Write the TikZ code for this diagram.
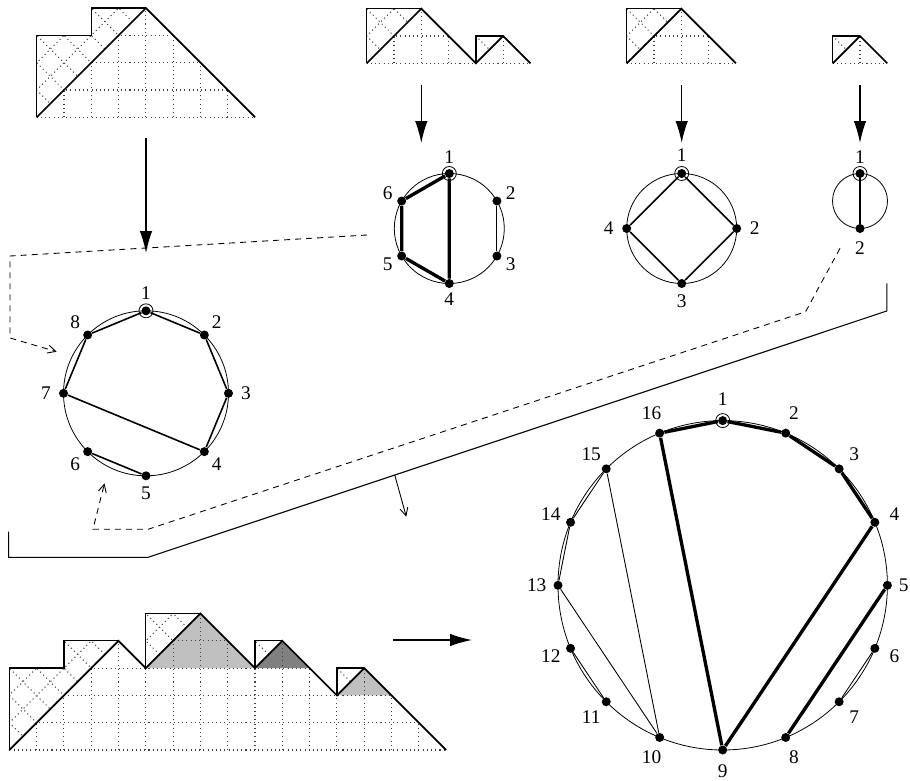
\documentclass[tikz,border=0pt]{standalone}
\usepackage{fontspec}
\setmainfont{Liberation Serif}
\usetikzlibrary{arrows.meta, calc}
\definecolor{shadelight}{HTML}{C0C0C0}
\definecolor{shadedark}{HTML}{808080}

% dotted cell diagonals inside a clipped region
\newcommand{\hatchcells}[1]{%
  \begin{scope}
    \clip #1;
    \foreach \kk in {-6,...,17} {
      \draw[cell] (\kk,0) -- ++(6,6);
      \draw[cell] (\kk,0) -- ++(-6,6);
    }
  \end{scope}}
% dotted square grid under a Dyck path
\newcommand{\dyckgrid}[3]{%
  \begin{scope}
    \clip #1;
    \foreach \cx in {1,...,#2} \draw[cell] (\cx,0) -- (\cx,#3);
    \foreach \ry in {1,...,#3} \draw[cell] (0,\ry) -- (#2,\ry);
  \end{scope}
  \draw[cell] (0,0) -- (#2,0);}

\begin{document}
\begin{tikzpicture}[
    x=0.2mm, y=-0.2mm,
    every node/.style={font=\fontsize{11}{13}\selectfont, inner sep=0pt},
    vtx/.style={circle, fill, inner sep=0pt, minimum size=1.8mm},
    rim/.style={line width=0.45pt},
    chord/.style={line width=0.9pt},
    fatchord/.style={line width=1.9pt},
    thinchord/.style={line width=0.5pt},
    dyck/.style={line width=1pt},
    stair/.style={line width=0.7pt},
    cell/.style={dash pattern=on 0.6pt off 1.8pt, line width=0.6pt, black!75},
    bigarrow/.style={-{Latex[length=4.4mm,width=2.5mm]}, line width=0.7pt},
    link/.style={dash pattern=on 1.2mm off 1mm, line width=0.5pt},
    barb/.style={-{Straight Barb[length=1.6mm,width=1.6mm]}},
  ]
  \useasboundingbox (0,0) rectangle (910,780);

  % Dyck paths, top row
  \begin{scope}[shift={(36.7,117.3)}, x=5.46mm, y=5.46mm]
    \hatchcells{(0,0) -- (0,3) -- (2,3) -- (2,4) -- (4,4) -- cycle}
    \dyckgrid{(0,0) -- (4,4) -- (8,0) -- cycle}{8}{4}
    \draw[stair] (0,0) -- (0,3) -- (2,3) -- (2,4) -- (4,4);
    \draw[dyck] (0,0) -- (4,4) -- (8,0);
  \end{scope}
  \begin{scope}[shift={(366.7,63.3)}, x=5.46mm, y=5.46mm]
    \hatchcells{(0,0) -- (0,2) -- (2,2) -- cycle (4,0) -- (4,1) -- (5,1) -- cycle}
    \dyckgrid{(0,0) -- (2,2) -- (4,0) -- (5,1) -- (6,0) -- cycle}{6}{2}
    \draw[stair] (0,0) -- (0,2) -- (2,2) (4,0) -- (4,1) -- (5,1);
    \draw[dyck] (0,0) -- (2,2) -- (4,0) -- (5,1) -- (6,0);
  \end{scope}
  \begin{scope}[shift={(626.7,63.3)}, x=5.46mm, y=5.46mm]
    \hatchcells{(0,0) -- (0,2) -- (2,2) -- cycle}
    \dyckgrid{(0,0) -- (2,2) -- (4,0) -- cycle}{4}{2}
    \draw[stair] (0,0) -- (0,2) -- (2,2);
    \draw[dyck] (0,0) -- (2,2) -- (4,0);
  \end{scope}
  \begin{scope}[shift={(832.7,63.3)}, x=5.46mm, y=5.46mm]
    \hatchcells{(0,0) -- (0,1) -- (1,1) -- cycle}
    \dyckgrid{(0,0) -- (1,1) -- (2,0) -- cycle}{2}{1}
    \draw[stair] (0,0) -- (0,1) -- (1,1);
    \draw[dyck] (0,0) -- (1,1) -- (2,0);
  \end{scope}

  % Dyck path, bottom
  \begin{scope}[shift={(9.3,750)}, x=5.46mm, y=5.46mm]
    \fill[shadelight] (5,3) -- (7,5) -- (9,3) -- cycle;
    \fill[shadedark] (9,3) -- (10,4) -- (11,3) -- cycle;
    \fill[shadelight] (12,2) -- (13,3) -- (14,2) -- cycle;
    \hatchcells{(0,0) -- (0,3) -- (2,3) -- (2,4) -- (4,4) -- cycle
      (5,3) -- (5,5) -- (7,5) -- cycle (9,3) -- (9,4) -- (10,4) -- cycle
      (12,2) -- (12,3) -- (13,3) -- cycle}
    \dyckgrid{(0,0) -- (4,4) -- (5,3) -- (7,5) -- (9,3) -- (10,4) -- (12,2) -- (13,3) -- (16,0) -- cycle}{16}{5}
    \draw[stair] (0,0) -- (0,3) -- (2,3) -- (2,4) -- (4,4) (5,3) -- (5,5) -- (7,5)
      (9,3) -- (9,4) -- (10,4) (12,2) -- (12,3) -- (13,3);
    \draw[dyck] (0,0) -- (4,4) -- (5,3) -- (7,5) -- (9,3) -- (10,4) -- (12,2) -- (13,3) -- (16,0);
  \end{scope}

  % Hexagon
  \coordinate (hc) at (449.3,228.5);
  \draw[rim] (hc) circle[radius=55];
  \foreach \i in {1,...,6} {
    \node[vtx] (h\i) at ($(hc)+(60*\i-150:55)$) {};
    \node (hl\i) at ($(hc)+(60*\i-150:71)$) {\i};
  }
  \draw[rim] (h1) circle[radius=7];
  \draw[fatchord] (h1) -- (h6) -- (h5) -- (h4) -- (h1);
  \draw[thinchord] (h2) -- (h3);

  % Square
  \coordinate (qc) at (681.7,228.5);
  \draw[rim] (qc) circle[radius=55];
  \foreach \i in {1,...,4} {
    \node[vtx] (q\i) at ($(qc)+(90*\i-180:55)$) {};
    \node (ql\i) at ($(qc)+(90*\i-180:73)$) {\i};
  }
  \draw[rim] (q1) circle[radius=7];
  \draw[chord] (q1) -- (q2) -- (q3) -- (q4) -- (q1);

  % Digon
  \coordinate (dc) at (860,201);
  \draw[rim] (dc) circle[radius=27.5];
  \node[vtx] (d1) at ($(dc)+(-90:27.5)$) {};
  \node[vtx] (d2) at ($(dc)+(90:27.5)$) {};
  \node (dl1) at ($(dc)+(-90:44)$) {1};
  \node (dl2) at ($(dc)+(90:47)$) {2};
  \draw[rim] (d1) circle[radius=7];
  \draw[chord] (d1) -- (d2);

  % Octagon
  \coordinate (oc) at (146,393.3);
  \draw[rim] (oc) circle[radius=82.5];
  \foreach \i in {1,...,8} {
    \node[vtx] (o\i) at ($(oc)+(45*\i-135:82.5)$) {};
    \node (ol\i) at ($(oc)+(45*\i-135:100)$) {\i};
  }
  \draw[rim] (o1) circle[radius=7];
  \draw[chord] (o1) -- (o2) -- (o3) -- (o4) -- (o7) -- (o8) -- (o1);
  \draw[chord] (o5) -- (o6);

  % 16-gon
  \coordinate (sc) at (722.7,585.3);
  \draw[rim] (sc) circle[radius=164.7];
  \foreach \i in {1,...,16} {
    \node[vtx] (s\i) at ($(sc)+(22.5*\i-112.5:164.7)$) {};
  }
  \foreach \i in {1,2,3,4,6,7,8,9,10,11,12,13,14,15,16} {
    \node (sl\i) at ($(sc)+(22.5*\i-112.5:186)$) {\i};
  }
  \node (sl5) at ($(sc)+(0:181)$) {5};
  \draw[rim] (s1) circle[radius=7];
  \draw[fatchord] (s9) -- (s16) -- (s1) -- (s2) -- (s3) -- (s4) -- (s9);
  \draw[fatchord] (s5) -- (s8);
  \draw[thinchord] (s10) -- (s15) -- (s14) -- (s13) -- (s10);
  \draw[thinchord] (s12) -- (s11);
  \draw[thinchord] (s6) -- (s7);

  % Arrows
  \coordinate (tlfoot) at (146,138);   \coordinate (otop) at (146,253);
  \coordinate (tmfoot) at (421.3,85);  \coordinate (htop) at (421.3,143);
  \coordinate (trfoot) at (681.7,85);  \coordinate (qtop) at (681.7,143);
  \coordinate (rrfoot) at (860,85);    \coordinate (dtop) at (860,143);
  \coordinate (btail) at (393,640);    \coordinate (stip) at (472,640);
  \draw[bigarrow] (tlfoot) -- (otop);
  \draw[bigarrow] (tmfoot) -- (htop);
  \draw[bigarrow] (trfoot) -- (qtop);
  \draw[bigarrow] (rrfoot) -- (dtop);
  \draw[bigarrow] (btail) -- (stip);

  % Dashed links
  \coordinate (la1) at (367,235);   \coordinate (la2) at (10,256);
  \coordinate (la3) at (10,338);    \coordinate (la4) at (56.7,351.7);
  \draw[link, barb] (la1) -- (la2) -- (la3) -- (la4);
  \coordinate (lb1) at (840,248.3); \coordinate (lb2) at (805.6,311.7);
  \coordinate (lb3) at (148,529.3); \coordinate (lb4) at (92.9,529.3);
  \coordinate (lb5) at (104.5,483.3);
  \draw[link, barb] (lb1) -- (lb2) -- (lb3) -- (lb4) -- (lb5);

  % Separator
  \coordinate (br1) at (886.8,283.3); \coordinate (br2) at (886.8,311);
  \coordinate (br3) at (148,557.3);   \coordinate (br4) at (8.7,557.3);
  \coordinate (br5) at (8.7,531.7);
  \draw[line width=0.6pt] (br1) -- (br2) -- (br3) -- (br4) -- (br5);
  \coordinate (brmid) at ($(br2)!0.666!(br3)$);
  \coordinate (brtip) at (406.3,516.7);
  \draw[line width=0.5pt, barb] (brmid) -- (brtip);
\end{tikzpicture}
\end{document}
